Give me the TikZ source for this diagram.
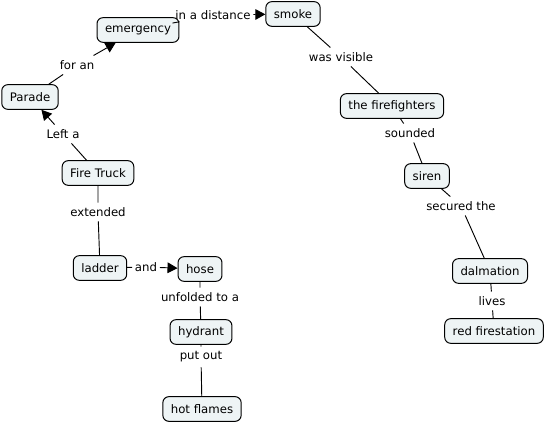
\documentclass[tikz,border=0pt]{standalone}
\usepackage{fontspec}
\setmainfont{DejaVu Sans}
\usetikzlibrary{arrows.meta,positioning}
\definecolor{cmapfill}{RGB}{238,244,245}

\begin{document}
\begin{tikzpicture}[
    x=0.75pt, y=-0.75pt,
    every node/.style={font=\fontsize{8.8pt}{10pt}\selectfont},
    concept/.style={rectangle, draw, fill=cmapfill, rounded corners=4.5pt, inner xsep=6pt, minimum height=18.5pt, line width=0.75pt},
    linkphrase/.style={inner xsep=2pt, inner ysep=3.5pt},
    line/.style={line width=0.7pt},
    arrow/.style={line, -{Triangle[length=7.5pt,width=8pt]}}
]
\useasboundingbox (0,0) rectangle (546,423);

% Concepts
\node[concept] (emergency) at (138,30) {emergency};
\node[concept] (smoke) at (293,14) {smoke};
\node[concept] (parade) at (30,97) {Parade};
\node[concept] (firefighters) at (392,106) {the firefighters};
\node[concept] (firetruck) at (98,173) {Fire Truck};
\node[concept] (siren) at (427,176) {siren};
\node[concept] (ladder) at (100,268) {ladder};
\node[concept] (hose) at (200,269) {hose};
\node[concept] (dalmation) at (490,271) {dalmation};
\node[concept] (station) at (494,331) {red firestation};
\node[concept] (hydrant) at (201,332) {hydrant};
\node[concept] (flames) at (202,409) {hot flames};

% Linking phrases
\node[linkphrase] (distance) at (213,15) {in a distance};
\node[linkphrase] (foran) at (77,65) {for an};
\node[linkphrase] (lefta) at (63,134) {Left a};
\node[linkphrase] (visible) at (341,57) {was visible};
\node[linkphrase] (sounded) at (410,133) {sounded};
\node[linkphrase] (secured) at (461,206) {secured the};
\node[linkphrase] (extended) at (98,212) {extended};
\node[linkphrase] (and) at (146,267) {and};
\node[linkphrase] (unfolded) at (200,297) {unfolded to a};
\node[linkphrase] (putout) at (201,357) {put out};
\node[linkphrase] (lives) at (492,301) {lives};

% Connectors with arrows
\draw[line] (parade) -- (foran);
\draw[arrow] (foran) -- (emergency);
\draw[line] (firetruck) -- (lefta);
\draw[arrow] (lefta) -- (parade);
\draw[line] (emergency) -- (distance);
\draw[arrow] (distance) -- (smoke);
\draw[line] (ladder) -- (and);
\draw[arrow] (and) -- (hose);

% Plain connectors
\draw[line] (smoke) -- (visible) -- (firefighters);
\draw[line] (firefighters) -- (sounded) -- (siren);
\draw[line] (siren) -- (secured) -- (dalmation);
\draw[line] (dalmation) -- (lives) -- (station);
\draw[line] (firetruck) -- (extended) -- (ladder);
\draw[line] (hose) -- (unfolded) -- (hydrant);
\draw[line] (hydrant) -- (putout) -- (flames);

\end{tikzpicture}
\end{document}
